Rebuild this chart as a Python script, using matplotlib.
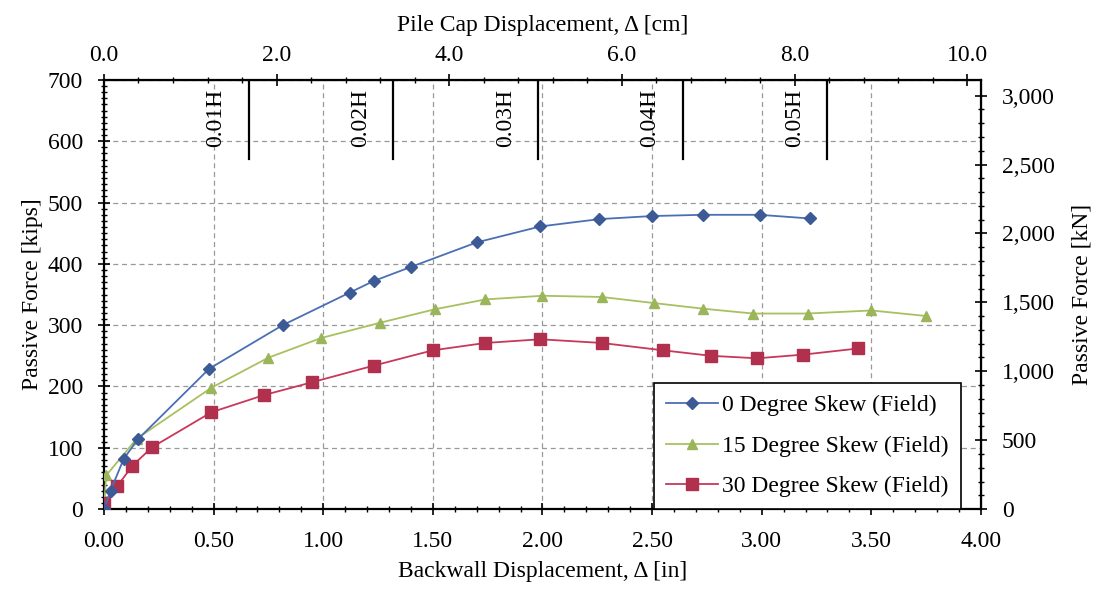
import numpy as np
import matplotlib
matplotlib.use("Agg")
import matplotlib.pyplot as plt
from matplotlib.ticker import MultipleLocator, FixedLocator, FuncFormatter

plt.rcParams['font.family'] = ['Liberation Serif', 'DejaVu Serif']
plt.rcParams['font.size'] = 17

# backwall displacement [in] and passive force [kips]
skew0_x = [0.0, 0.03, 0.09, 0.155, 0.48, 0.815, 1.12, 1.23, 1.40, 1.70, 1.99, 2.26, 2.50, 2.73, 2.99, 3.22]
skew0_y = [0, 30, 82, 114, 229, 300, 353, 372, 395, 435, 461, 473, 478, 480, 480, 474]

skew15_x = [0.0, 0.01, 0.15, 0.49, 0.75, 0.99, 1.26, 1.51, 1.74, 2.00, 2.27, 2.51, 2.73, 2.96, 3.21, 3.50, 3.75]
skew15_y = [0, 55, 115, 198, 247, 279, 304, 326, 342, 348, 346, 336, 327, 319, 319, 324, 315]

skew30_x = [0.0, 0.06, 0.13, 0.22, 0.49, 0.73, 0.95, 1.23, 1.50, 1.74, 1.99, 2.27, 2.55, 2.77, 2.98, 3.19, 3.44]
skew30_y = [10, 37, 71, 101, 158, 186, 207, 234, 259, 271, 277, 271, 259, 250, 246, 252, 262]

# wall height fractions (H = 66 in)
h_labels = ['0.01H', '0.02H', '0.03H', '0.04H', '0.05H']
h_pos = [0.66, 1.32, 1.98, 2.64, 3.30]

cm_ticks = [0.0, 2.0, 4.0, 6.0, 8.0, 10.0]
kn_ticks = [0, 500, 1000, 1500, 2000, 2500, 3000]

IN_TO_CM = 2.54
KIP_TO_KN = 4.448

fig = plt.figure(figsize=(10.99, 5.92), dpi=100)
ax = fig.add_axes([0.0946, 0.140, 0.798, 0.725])

ax.plot(skew0_x, skew0_y, color='#4a6fb5', lw=1.3, marker='D', ms=6,
        mfc='#3c5a96', mec='#3c5a96', label='0 Degree Skew (Field)', zorder=4)
ax.plot(skew15_x, skew15_y, color='#a8c060', lw=1.3, marker='^', ms=7,
        mfc='#9bb55a', mec='#9bb55a', label='15 Degree Skew (Field)', zorder=3)
ax.plot(skew30_x, skew30_y, color='#c8385a', lw=1.3, marker='s', ms=8.5,
        mfc='#b0304e', mec='#b0304e', label='30 Degree Skew (Field)', zorder=3)

for x, lab in zip(h_pos, h_labels):
    ax.plot([x, x], [571, 700], color='black', lw=1.6, zorder=5)
    ax.text(x - 0.15, 638, lab, rotation=90, ha='center', va='center', fontsize=17)

ax.set_xlim(0, 4)
ax.set_ylim(0, 700)
ax.xaxis.set_major_locator(MultipleLocator(0.5))
ax.xaxis.set_minor_locator(MultipleLocator(0.1))
ax.yaxis.set_major_locator(MultipleLocator(100))
ax.yaxis.set_minor_locator(MultipleLocator(10))
ax.xaxis.set_major_formatter(FuncFormatter(lambda v, p: f'{v:.2f}'))
ax.tick_params(which='major', direction='inout', length=8, width=1.2)
ax.tick_params(which='minor', direction='inout', length=4, width=1)
ax.tick_params(axis='x', which='major', pad=12)
ax.tick_params(axis='y', which='major', pad=11)
ax.grid(True, which='major', color='#999999', ls=(0, (4, 3)), lw=0.9)
for s in ax.spines.values():
    s.set_linewidth(1.6)

ax.set_xlabel('Backwall Displacement, Δ [in]')
ax.set_ylabel('Passive Force [kips]')
ax.xaxis.set_label_coords(0.5, -0.121)
ax.yaxis.set_label_coords(-0.069, 0.5)

top = ax.secondary_xaxis('top', functions=(lambda v: v * IN_TO_CM, lambda v: v / IN_TO_CM))
top.xaxis.set_major_locator(FixedLocator(cm_ticks))
top.xaxis.set_minor_locator(FixedLocator(np.arange(0.4, 10.0, 0.4)))
top.xaxis.set_major_formatter(FuncFormatter(lambda v, p: f'{v:.1f}'))
top.tick_params(which='major', direction='inout', length=8, width=1.2, pad=6)
top.tick_params(which='minor', direction='inout', length=4, width=1)
top.set_xlabel('Pile Cap Displacement, Δ [cm]', labelpad=10)

right = ax.secondary_yaxis('right', functions=(lambda v: v * KIP_TO_KN, lambda v: v / KIP_TO_KN))
right.yaxis.set_major_locator(FixedLocator(kn_ticks))
right.yaxis.set_minor_locator(FixedLocator(np.arange(100, 3100, 100)))
right.yaxis.set_major_formatter(FuncFormatter(lambda v, p: f'{v:,.0f}'))
right.tick_params(which='major', direction='inout', length=8, width=1.2, pad=11)
right.tick_params(which='minor', direction='inout', length=4, width=1)
right.set_ylabel('Passive Force [kN]', labelpad=12)

leg = ax.legend(loc='lower right', bbox_to_anchor=(0.977, 0.0), borderaxespad=0,
                fontsize=17, fancybox=False, edgecolor='black', framealpha=1,
                handlelength=2.2, handletextpad=0.2, borderpad=0.5, labelspacing=0.8)
leg.get_frame().set_linewidth(1.2)

fig.savefig('out.png', dpi=100)
